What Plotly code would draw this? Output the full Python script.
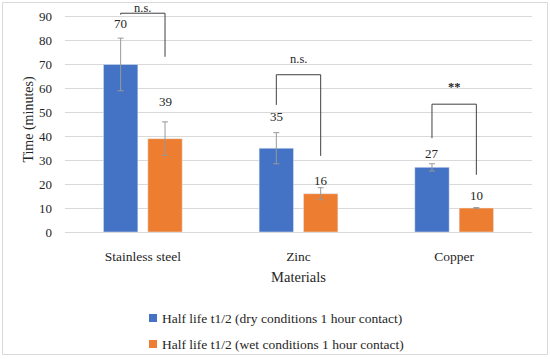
import plotly.graph_objects as go

# ---- data ----
categories = ["Stainless steel", "Zinc", "Copper"]
dry_values = [70, 35, 27]
wet_values = [39, 16, 10]
dry_err = [11, 6.5, 1.5]
wet_err = [7, 2.5, 0.2]
series_names = ["Half life t1/2 (dry conditions 1 hour contact)",
                "Half life t1/2 (wet conditions 1 hour contact)"]
y_ticks = [0, 10, 20, 30, 40, 50, 60, 70, 80, 90]
sig_labels = ["n.s.", "n.s.", "<b>**</b>"]

# ---- layout constants ----
W, H = 550, 359
ML, MR, MT, MB = 65, 18, 7, 127
Y_MAX = 94
BARGAP = 0.43
GROUPGAP = 0.225
BLUE, ORANGE = "#4472C4", "#ED7D31"
TXT = "#262626"
FONT = "'Liberation Serif', 'Times New Roman', Times, serif"

# label offsets above bar (data units) and bracket geometry (data units)
label_off = [[17, 13.2, 5.7], [15.4, 5.4, 5.2]]
bracket_top = [91.4, 65.7, 53.4]
bracket_left = [90.8, 53.1, 39.2]
bracket_right = [73.2, 31.8, 23.9]
sig_y = [93.6, 72.3, 60.5]

PW = W - ML - MR
PH = H - MT - MB


def px_x(p):
    return (p - ML) / PW


def px_y(p):
    return (H - MB - p) / PH


fig = go.Figure()
fig.add_trace(go.Bar(x=categories, y=dry_values, name=series_names[0],
                     marker_color=BLUE, showlegend=False, hoverinfo="skip",
                     error_y=dict(type="data", array=dry_err, color="#999999",
                                  thickness=1, width=3)))
fig.add_trace(go.Bar(x=categories, y=wet_values, name=series_names[1],
                     marker_color=ORANGE, showlegend=False, hoverinfo="skip",
                     error_y=dict(type="data", array=wet_err, color="#999999",
                                  thickness=1, width=3)))

half = (1 - BARGAP) / 4  # offset of each bar center from category center
annotations = []
shapes = []
for i, cat in enumerate(categories):
    xb = i - half
    xo = i + half
    annotations.append(dict(x=xb, y=dry_values[i] + label_off[0][i], text=str(dry_values[i]),
                            showarrow=False, xref="x", yref="y",
                            font=dict(size=13, color=TXT, family=FONT)))
    annotations.append(dict(x=xo, y=wet_values[i] + label_off[1][i], text=str(wet_values[i]),
                            showarrow=False, xref="x", yref="y",
                            font=dict(size=13, color=TXT, family=FONT)))
    # bracket
    shapes.append(dict(type="path", xref="x", yref="y",
                       path=f"M {xb},{bracket_left[i]} L {xb},{bracket_top[i]} "
                            f"L {xo},{bracket_top[i]} L {xo},{bracket_right[i]}",
                       line=dict(color="#404040", width=1)))
    annotations.append(dict(x=i, y=sig_y[i], text=sig_labels[i], showarrow=False,
                            xref="x", yref="y",
                            font=dict(size=12.5, color=TXT, family=FONT)))

# outer border
shapes.append(dict(type="rect", xref="paper", yref="paper",
                   x0=px_x(2.5), x1=px_x(547.5), y0=px_y(354.5), y1=px_y(2.5),
                   line=dict(color="#d9d9d9", width=1), layer="below"))

# manual legend
legend_rows = [318, 344]
for name, col, yr in zip(series_names, [BLUE, ORANGE], legend_rows):
    shapes.append(dict(type="rect", xref="paper", yref="paper",
                       x0=px_x(149), x1=px_x(157), y0=px_y(yr + 4), y1=px_y(yr - 4),
                       fillcolor=col, line=dict(width=0)))
    annotations.append(dict(x=px_x(160), y=px_y(yr), xref="paper", yref="paper",
                            text=name, showarrow=False, xanchor="left", yanchor="middle",
                            font=dict(size=13.5, color=TXT, family=FONT)))

fig.update_layout(
    width=W, height=H,
    margin=dict(l=ML, r=MR, t=MT, b=MB),
    paper_bgcolor="white", plot_bgcolor="white",
    barmode="group", bargap=BARGAP, bargroupgap=GROUPGAP,
    showlegend=False, hovermode=False,
    font=dict(family=FONT, color=TXT, size=13),
    annotations=annotations, shapes=shapes,
    xaxis=dict(showgrid=False, showline=False, ticks="", ticklabelstandoff=14,
               tickfont=dict(size=13.5, family=FONT, color=TXT),
               title=dict(text="Materials", font=dict(size=14.5, family=FONT, color=TXT),
                          standoff=9)),
    yaxis=dict(range=[0, Y_MAX], tickvals=y_ticks, showgrid=True, gridcolor="#d9d9d9",
               gridwidth=1, zeroline=True, zerolinecolor="#d9d9d9", zerolinewidth=1,
               showline=False, ticks="", ticklabelstandoff=12,
               tickfont=dict(size=13, family=FONT, color=TXT),
               title=dict(text="Time (minutes)", font=dict(size=14, family=FONT, color=TXT),
                          standoff=2)),
)

fig.write_html("out.html", post_script="document.body.style.margin='0px';",
               config={"displayModeBar": False})
